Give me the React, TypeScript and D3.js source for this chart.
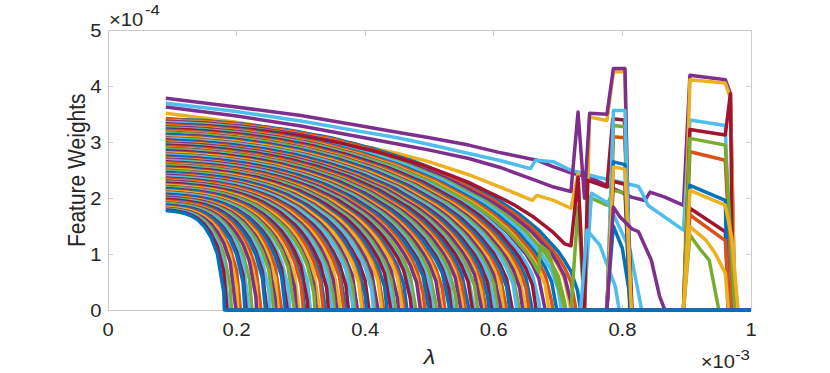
import React from 'react';
import * as d3 from 'd3';

// MATLAB default colour order
const COLORS = ['#0072BD', '#D95319', '#EDB120', '#7E2F8E', '#77AC30', '#4DBEEE', '#A2142F'];

const X_TICKS = [0, 0.2, 0.4, 0.6, 0.8, 1];
const X_TICK_LABELS = ['0', '0.2', '0.4', '0.6', '0.8', '1'];
const Y_TICKS = [0, 1, 2, 3, 4, 5];
const Y_TICK_LABELS = ['0', '1', '2', '3', '4', '5'];

// lambda grid (x 1e-3)
const LAMBDA_START = 0.09;
const LAMBDA_STEP = 0.01;

// normalised shapes of a shrinking weight: short paths (lowest) and long paths (top of fan)
const PROFILE_T = [0, 0.1, 0.2, 0.3, 0.4, 0.5, 0.6, 0.7, 0.8, 0.85, 0.9, 0.95, 0.975, 0.99, 1];
const PROFILE_SHORT = [1, 0.994, 0.986, 0.975, 0.956, 0.926, 0.88, 0.809, 0.701, 0.625, 0.525, 0.382, 0.274, 0.175, 0];
const PROFILE_LONG = [1, 0.99, 0.97, 0.94, 0.9, 0.844, 0.776, 0.689, 0.576, 0.505, 0.416, 0.297, 0.211, 0.134, 0];
const SHORT_END = 0.18;
const LONG_END = 0.72;

// fan of paths: weight at lambda = 0.09 (x 1e-4)
const FAN_START = [
  3.42, 3.41, 3.39, 3.38, 3.36, 3.35, 3.33, 3.32, 3.31, 3.29,
  3.28, 3.26, 3.25, 3.24, 3.22, 3.21, 3.19, 3.18, 3.17, 3.15,
  3.14, 3.13, 3.11, 3.10, 3.08, 3.07, 3.06, 3.04, 3.03, 3.01,
  3.00, 2.99, 2.97, 2.96, 2.95, 2.93, 2.92, 2.90, 2.89, 2.88,
  2.86, 2.85, 2.83, 2.82, 2.81, 2.79, 2.78, 2.77, 2.75, 2.74,
  2.72, 2.71, 2.70, 2.68, 2.67, 2.65, 2.64, 2.63, 2.61, 2.60,
  2.59, 2.57, 2.56, 2.54, 2.53, 2.52, 2.50, 2.49, 2.47, 2.46,
  2.45, 2.43, 2.42, 2.41, 2.39, 2.38, 2.36, 2.35, 2.34, 2.32,
  2.31, 2.29, 2.28, 2.27, 2.25, 2.24, 2.23, 2.21, 2.20, 2.18,
  2.17, 2.16, 2.14, 2.13, 2.11, 2.10, 2.09, 2.07, 2.06, 2.04,
  2.03, 2.02, 2.00, 1.99, 1.98, 1.96, 1.95, 1.93, 1.92, 1.91,
  1.89, 1.88, 1.87, 1.85, 1.84, 1.82, 1.81, 1.80, 1.79, 1.78,
];
// lambda (x 1e-3) where each fan path reaches zero
const FAN_END = [
  0.735, 0.728, 0.720, 0.722, 0.712, 0.705, 0.760, 0.698, 0.692, 0.686,
  0.680, 0.684, 0.672, 0.666, 0.660, 0.655, 0.650, 0.645, 0.640, 0.636,
  0.629, 0.625, 0.620, 0.615, 0.611, 0.606, 0.602, 0.597, 0.593, 0.588,
  0.584, 0.581, 0.575, 0.570, 0.567, 0.561, 0.556, 0.552, 0.549, 0.543,
  0.538, 0.534, 0.531, 0.524, 0.520, 0.517, 0.511, 0.506, 0.502, 0.499,
  0.493, 0.488, 0.486, 0.479, 0.474, 0.472, 0.465, 0.461, 0.458, 0.452,
  0.447, 0.443, 0.440, 0.434, 0.429, 0.426, 0.420, 0.415, 0.413, 0.406,
  0.402, 0.397, 0.395, 0.388, 0.384, 0.381, 0.374, 0.370, 0.367, 0.361,
  0.356, 0.352, 0.349, 0.343, 0.338, 0.335, 0.329, 0.324, 0.322, 0.315,
  0.311, 0.306, 0.304, 0.297, 0.293, 0.290, 0.283, 0.279, 0.276, 0.270,
  0.265, 0.261, 0.258, 0.252, 0.247, 0.245, 0.238, 0.233, 0.231, 0.224,
  0.220, 0.215, 0.213, 0.206, 0.202, 0.199, 0.192, 0.188, 0.185, 0.181,
];

// the four top paths, [lambda, weight]
const purpleA = [
  [0.09, 3.79], [0.2, 3.63], [0.3, 3.48], [0.39, 3.3], [0.45, 3.18], [0.5, 3.08], [0.561, 2.95],
  [0.608, 2.82], [0.667, 2.68], [0.693, 2.56], [0.721, 2.45], [0.747, 2.38], [0.776, 2.23],
  [0.814, 2.02], [0.835, 1.96], [0.843, 2.11], [0.866, 2.02], [0.895, 1.87], [0.905, 4.2],
  [0.96, 4.12], [0.968, 3.87], [0.975, 0], [1, 0],
];
const cyanA = [
  [0.09, 3.7], [0.2, 3.55], [0.3, 3.38], [0.39, 3.2], [0.45, 3.08], [0.5, 2.96], [0.561, 2.8],
  [0.608, 2.68], [0.657, 2.53], [0.665, 2.68], [0.693, 2.65], [0.72, 2.5], [0.76, 2.38],
  [0.8, 2.28], [0.825, 2.21], [0.83, 2.11], [0.84, 1.87], [0.895, 1.43], [0.905, 3.4],
  [0.96, 3.3], [0.97, 0], [1, 0],
];
const yellowA = [
  [0.09, 3.52], [0.2, 3.36], [0.3, 3.16], [0.39, 2.95], [0.45, 2.8], [0.5, 2.65], [0.561, 2.42],
  [0.61, 2.2], [0.66, 1.96], [0.667, 2.05], [0.693, 1.96], [0.72, 1.82], [0.731, 2.44],
  [0.741, 0], [0.749, 3.45], [0.776, 3.39], [0.786, 4.26], [0.804, 4.26], [0.811, 0], [1, 0],
];
const purpleB = [
  [0.09, 3.63], [0.2, 3.47], [0.3, 3.29], [0.39, 3.1], [0.45, 2.97], [0.5, 2.86], [0.561, 2.71],
  [0.61, 2.55], [0.665, 2.32], [0.693, 2.2], [0.72, 2.12], [0.731, 3.54], [0.741, 2.0],
  [0.749, 3.52], [0.776, 3.5], [0.786, 4.32], [0.804, 4.32], [0.812, 0], [1, 0],
];
const TOP_LINES = [purpleA, cyanA, yellowA, purpleB];
const TOP_COLOR_INDEX = [3, 5, 2, 3];

// later parts of fan paths that come back from zero, [lambda, weight]
const darkRedSpike = [[0.72, 1.15], [0.731, 2.38], [0.741, 0], [0.746, 2.32], [0.776, 2.2], [0.785, 3.42], [0.803, 3.4], [0.815, 0]];
const greenSpike = [[0.72, 0], [0.731, 1.85], [0.741, 0], [0.748, 2.02], [0.776, 1.875], [0.786, 2.14], [0.804, 2.09], [0.812, 0]];
const cyanDrop1 = [[0.74, 0], [0.752, 2.09], [0.778, 1.91], [0.812, 1.07], [0.83, 0]];
const cyanDrop2 = [[0.735, 0], [0.745, 1.43], [0.765, 1.16], [0.789, 0.42], [0.795, 0]];
const greenBump = [[0.672, 1.16], [0.685, 1.04], [0.711, 0]];
const blueDrop = [[0.775, 0], [0.786, 1.5], [0.8, 1.1], [0.815, 0]];
const cyanBlock1 = [[0.776, 0], [0.786, 3.57], [0.804, 3.57], [0.813, 0]];
const greenBlock1 = [[0.776, 0], [0.786, 3.3], [0.804, 3.28], [0.812, 0]];
const orangeBlock1 = [[0.776, 0], [0.786, 3.1], [0.804, 3.08], [0.812, 0]];
const blueBlock1 = [[0.776, 0], [0.786, 2.65], [0.804, 2.6], [0.812, 0]];
const yellowBlock1 = [[0.776, 0], [0.786, 2.56], [0.804, 2.52], [0.814, 0]];
const darkRedBlock1 = [[0.776, 0], [0.786, 2.3], [0.804, 2.25], [0.812, 0]];
const purpleBlock1 = [[0.776, 0], [0.786, 1.84], [0.796, 1.67], [0.815, 1.45], [0.825, 1.4], [0.845, 0.89], [0.858, 0.24], [0.866, 0]];
const yellowBlock2 = [[0.895, 0], [0.905, 4.12], [0.96, 4.06], [0.968, 3.8], [0.975, 0]];
const darkRedBlock2 = [[0.895, 0], [0.905, 3.23], [0.96, 3.13], [0.968, 3.87], [0.972, 0]];
const greenBlock2 = [[0.895, 0], [0.905, 3.07], [0.96, 2.95], [0.975, 0]];
const orangeBlock2 = [[0.895, 0], [0.905, 2.83], [0.96, 2.68], [0.972, 0]];
const blueBlock2 = [[0.895, 0], [0.905, 2.23], [0.96, 1.96], [0.964, 0]];
const yellowBlock2b = [[0.895, 0], [0.905, 2.14], [0.96, 1.875], [0.97, 1.3], [0.98, 0]];
const darkRedBlock2b = [[0.895, 0], [0.905, 1.82], [0.96, 1.4], [0.966, 0]];
const orangeBlock2b = [[0.895, 0], [0.905, 1.7], [0.96, 1.24], [0.966, 0]];
const yellowBlock2c = [[0.895, 0], [0.905, 1.49], [0.93, 1.25], [0.945, 1.0], [0.96, 0.66], [0.965, 0]];
const greenBlock2b = [[0.895, 0], [0.905, 1.34], [0.92, 1.1], [0.935, 0.89], [0.95, 0]];

const REVIVAL_INDEX = [6, 4, 5, 12, 11, 14, 19, 18, 15, 21, 23, 20, 24, 9, 13, 25, 22, 28, 30, 27, 29, 37, 32];
const REVIVAL_TAIL = [
  darkRedSpike, greenSpike, cyanDrop1, cyanDrop2, greenBump, blueDrop,
  cyanBlock1, greenBlock1, orangeBlock1, blueBlock1, yellowBlock1, darkRedBlock1, purpleBlock1,
  yellowBlock2, darkRedBlock2, greenBlock2, orangeBlock2, blueBlock2, yellowBlock2b,
  darkRedBlock2b, orangeBlock2b, yellowBlock2c, greenBlock2b,
];

const W = 830;
const H = 373;
const FONT = '"Liberation Sans", Arial, Helvetica, sans-serif';
const TXT = '#262626';
const AXIS = '#cccccc';
const SX = 1.12; // horizontal text stretch seen in the reference

const x = d3.scaleLinear().domain([0, 1]).range([108, 751]);
const y = d3.scaleLinear().domain([0, 5]).range([310, 30.5]);
const shortShape = d3.scaleLinear().domain(PROFILE_T).range(PROFILE_SHORT).clamp(true);
const longShape = d3.scaleLinear().domain(PROFILE_T).range(PROFILE_LONG).clamp(true);
const lengthMix = d3.scaleLinear().domain([SHORT_END, LONG_END]).range([0, 1]).clamp(true);
const line = d3.line<number[]>().x((d) => x(d[0])).y((d) => y(d[1]));

function fanPath(start: number, end: number, tail?: number[][]) {
  const pts: number[][] = [];
  const tailStart = tail ? tail[0][0] : Infinity;
  const a = lengthMix(end);
  for (let k = 0; k < 200; k++) {
    const lam = Math.round((LAMBDA_START + k * LAMBDA_STEP) * 1000) / 1000;
    if (lam >= tailStart - 1e-9) break;
    if (lam >= end - 1e-9) {
      pts.push([end, 0]);
      break;
    }
    const t = (lam - LAMBDA_START) / (end - LAMBDA_START);
    pts.push([lam, start * ((1 - a) * shortShape(t) + a * longShape(t))]);
  }
  const last = pts[pts.length - 1];
  if (last[1] > 0 && end < tailStart) pts.push([end, 0]);
  if (tail) tail.forEach((p) => pts.push(p));
  if (pts[pts.length - 1][0] < 1) pts.push([1, 0]);
  return pts;
}

function T(props: { x: number; y: number; anchor?: string; size: number; italic?: boolean; children: React.ReactNode }) {
  return (
    <text transform={`translate(${props.x},${props.y}) scale(${SX},1)`} textAnchor={props.anchor || 'start'}
      fontSize={props.size} fontStyle={props.italic ? 'italic' : 'normal'} fill={TXT}>
      {props.children}
    </text>
  );
}

export default function App() {
  const fan = FAN_START.map((s, i) => {
    const r = REVIVAL_INDEX.indexOf(i);
    return fanPath(s, FAN_END[i], r >= 0 ? REVIVAL_TAIL[r] : undefined);
  });
  const x0 = x(0), x1 = x(1), y0 = y(0), y1 = y(5);
  const tick = 5;
  return (
    <svg width={W} height={H} style={{ position: 'absolute', left: 0, top: 0, background: '#fff' }}
      fontFamily={FONT}>
      <rect x={0} y={0} width={W} height={H} fill="#fff" />
      {/* axes box and ticks (below the data, as MATLAB draws them) */}
      <g stroke={AXIS} strokeWidth={1} fill="none" shapeRendering="crispEdges">
        <rect x={x0} y={y1} width={x1 - x0} height={y0 - y1} />
        {X_TICKS.map((t) => (
          <g key={'xt' + t}>
            <line x1={x(t)} x2={x(t)} y1={y0} y2={y0 - tick} />
            <line x1={x(t)} x2={x(t)} y1={y1} y2={y1 + tick} />
          </g>
        ))}
        {Y_TICKS.map((t) => (
          <g key={'yt' + t}>
            <line x1={x0} x2={x0 + tick} y1={y(t)} y2={y(t)} />
            <line x1={x1} x2={x1 - tick} y1={y(t)} y2={y(t)} />
          </g>
        ))}
      </g>
      <g fill="none" strokeWidth={3.5} strokeLinejoin="round" strokeLinecap="butt">
        {TOP_LINES.map((d, i) => (
          <path key={'t' + i} d={line(d as number[][]) || ''} stroke={COLORS[TOP_COLOR_INDEX[i]]} />
        ))}
        {fan.map((d, i) => (
          <path key={'f' + i} d={line(d) || ''} stroke={COLORS[i % 7]} />
        ))}
      </g>
      {X_TICKS.map((t, i) => (
        <T key={'xl' + t} x={x(t)} y={336} anchor="middle" size={18}>{X_TICK_LABELS[i]}</T>
      ))}
      {Y_TICKS.map((t, i) => (
        <T key={'yl' + t} x={101.5} y={y(t) + 6.5} anchor="end" size={18}>{Y_TICK_LABELS[i]}</T>
      ))}
      <T x={109} y={26} size={18}>×10</T>
      <T x={145} y={15} size={15}>-4</T>
      <T x={735} y={368} anchor="end" size={18}>×10</T>
      <T x={735} y={360} size={15}>-3</T>
      <T x={(x0 + x1) / 2} y={364} anchor="middle" size={21} italic>λ</T>
      <text transform={`translate(85,${(y0 + y1) / 2}) scale(${SX},1) rotate(-90)`} textAnchor="middle"
        fontSize={21} fill={TXT}>
        Feature Weights
      </text>
    </svg>
  );
}
